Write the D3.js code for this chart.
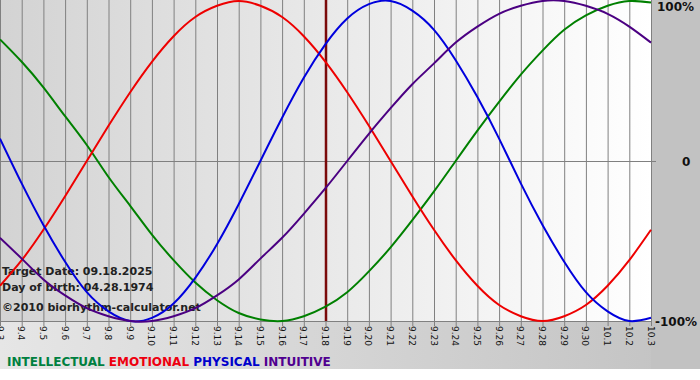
<!DOCTYPE html>
<html>
<head>
<meta charset="utf-8">
<script src="https://cdn.jsdelivr.net/npm/d3@7"></script>
<style>
  body { margin: 0; background: #fff; }
  svg { display: block; font-family: "DejaVu Sans", Verdana, sans-serif; }
</style>
</head>
<body>
<svg width="700" height="380"></svg>
<script>
// days shown on the chart
const days = ["9.3","9.4","9.5","9.6","9.7","9.8","9.9","9.10","9.11","9.12","9.13","9.14","9.15","9.16","9.17",
  "9.18","9.19","9.20","9.21","9.22","9.23","9.24","9.25","9.26","9.27","9.28","9.29","9.30","10.1","10.2","10.3"];

// values, -1 .. 1
const intellectual = [0.76,0.62,0.46,0.28,0.10,-0.10,-0.28,-0.46,-0.62,-0.76,-0.87,-0.95,-0.99,-1.00,-0.97,
  -0.91,-0.82,-0.69,-0.54,-0.37,-0.19,0,0.19,0.37,0.54,0.69,0.82,0.91,0.97,1.00,0.99];
const emotional = [-0.78,-0.62,-0.43,-0.22,0,0.22,0.43,0.62,0.78,0.90,0.97,1.00,0.97,0.90,0.78,
  0.62,0.43,0.22,0,-0.22,-0.43,-0.62,-0.78,-0.90,-0.97,-1.00,-0.97,-0.90,-0.78,-0.62,-0.43];
const physical = [0.14,-0.14,-0.40,-0.63,-0.82,-0.94,-1.00,-0.98,-0.89,-0.73,-0.52,-0.27,0,0.27,0.52,
  0.73,0.89,0.98,1.00,0.94,0.82,0.63,0.40,0.14,-0.14,-0.40,-0.63,-0.82,-0.94,-1.00,-0.98];
const intuitive = [-0.48,-0.61,-0.74,-0.84,-0.92,-0.97,-1.00,-1.00,-0.97,-0.92,-0.84,-0.74,-0.61,-0.48,-0.33,
  -0.17,0,0.17,0.33,0.48,0.61,0.74,0.84,0.92,0.97,1.00,1.00,0.97,0.92,0.84,0.74];

const seriesNames = ["INTELLECTUAL","EMOTIONAL","PHYSICAL","INTUITIVE"];
const seriesColors = ["#008000","#ee0000","#0000dd","#4b0082"];
const legendColors = ["#008040","#ee0010","#0000cc","#500090"];
const targetDay = "9.18";
const infoLines = ["Target Date: 09.18.2025","Day of birth: 04.28.1974","\u00a92010 biorhythm-calculator.net"];
const yLabels = ["100%","0","-100%"];
const yLabelValues = [1,0,-1];

const svg = d3.select("svg");
const W = 700, H = 380;
const plot = { left: 0, right: 651, top: 1, bottom: 321 };

const defs = svg.append("defs");
const g1 = defs.append("linearGradient").attr("id", "plotbg");
g1.append("stop").attr("offset", "0%").attr("stop-color", "#d3d3d3");
g1.append("stop").attr("offset", "100%").attr("stop-color", "#ffffff");
const g2 = defs.append("linearGradient").attr("id", "outerbg");
g2.append("stop").attr("offset", "0%").attr("stop-color", "#e6e6e6");
g2.append("stop").attr("offset", "100%").attr("stop-color", "#c2c2c2");

// outer frame
svg.append("rect").attr("x", 0).attr("y", 0).attr("width", W).attr("height", 369).attr("fill", "url(#outerbg)");
svg.append("rect").attr("x", plot.right).attr("y", 0).attr("width", W - plot.right).attr("height", 369).attr("fill", "#c2c2c2");
svg.append("rect").attr("x", 0).attr("y", 0).attr("width", plot.right).attr("height", plot.bottom).attr("fill", "url(#plotbg)");

const x = d3.scalePoint().domain(days).range([plot.left, plot.right]);
const y = d3.scaleLinear().domain([-1, 1]).range([plot.bottom, plot.top]);

// vertical grid + ticks
svg.append("g")
  .selectAll("line")
  .data(days)
  .enter()
  .append("line")
  .attr("x1", (d) => x(d) + 0.5)
  .attr("x2", (d) => x(d) + 0.5)
  .attr("y1", 0)
  .attr("y2", plot.bottom + 5)
  .attr("stroke", "#808080")
  .attr("stroke-width", 1);

// zero line and bottom line
svg.append("line")
  .attr("x1", 0).attr("x2", plot.right + 5)
  .attr("y1", Math.round(y(0)) + 0.5).attr("y2", Math.round(y(0)) + 0.5)
  .attr("stroke", "#808080");
svg.append("line")
  .attr("x1", 0).attr("x2", plot.right + 1)
  .attr("y1", plot.bottom + 0.5).attr("y2", plot.bottom + 0.5)
  .attr("stroke", "#808080");

// day labels, rotated
svg.append("g")
  .selectAll("text")
  .data(days)
  .enter()
  .append("text")
  .attr("transform", (d) => "translate(" + (x(d) - 3.5) + "," + (plot.bottom + 5) + ") rotate(90)")
  .attr("font-size", "9px")
  .attr("fill", "#111")
  .text((d) => d);

// info text
svg.append("g")
  .selectAll("text")
  .data(infoLines)
  .enter()
  .append("text")
  .attr("x", 2)
  .attr("y", (d, i) => [275, 291, 311][i])
  .attr("font-size", "11px")
  .attr("font-weight", "bold")
  .attr("fill", "#222")
  .text((d) => d);

// target day line
svg.append("line")
  .attr("x1", x(targetDay) + 0.5).attr("x2", x(targetDay) + 0.5)
  .attr("y1", 0).attr("y2", plot.bottom)
  .attr("stroke", "#7a0a0a")
  .attr("stroke-width", 2.5);

// curves
const all = [intellectual, emotional, physical, intuitive];
const line = d3.line()
  .x((d, i) => x(days[i]))
  .y((d) => y(d))
  .curve(d3.curveNatural);

svg.append("g")
  .selectAll("path")
  .data(all)
  .enter()
  .append("path")
  .attr("d", line)
  .attr("fill", "none")
  .attr("stroke", (d, i) => seriesColors[i])
  .attr("stroke-width", 2);

// right side labels
svg.append("g")
  .selectAll("text")
  .data(yLabels)
  .enter()
  .append("text")
  .attr("x", (d, i) => [657, 682, 655][i])
  .attr("y", (d, i) => y(yLabelValues[i]) + [10, 5, 5][i])
  .attr("font-size", "12px")
  .attr("font-weight", "bold")
  .attr("fill", "#111")
  .text((d) => d);

// legend
const legend = svg.append("text")
  .attr("x", 7)
  .attr("y", 366)
  .attr("font-size", "12px")
  .attr("font-weight", "bold");
seriesNames.forEach((n, i) => {
  legend.append("tspan").attr("fill", legendColors[i]).text(n + (i < seriesNames.length - 1 ? " " : ""));
});
</script>
</body>
</html>
